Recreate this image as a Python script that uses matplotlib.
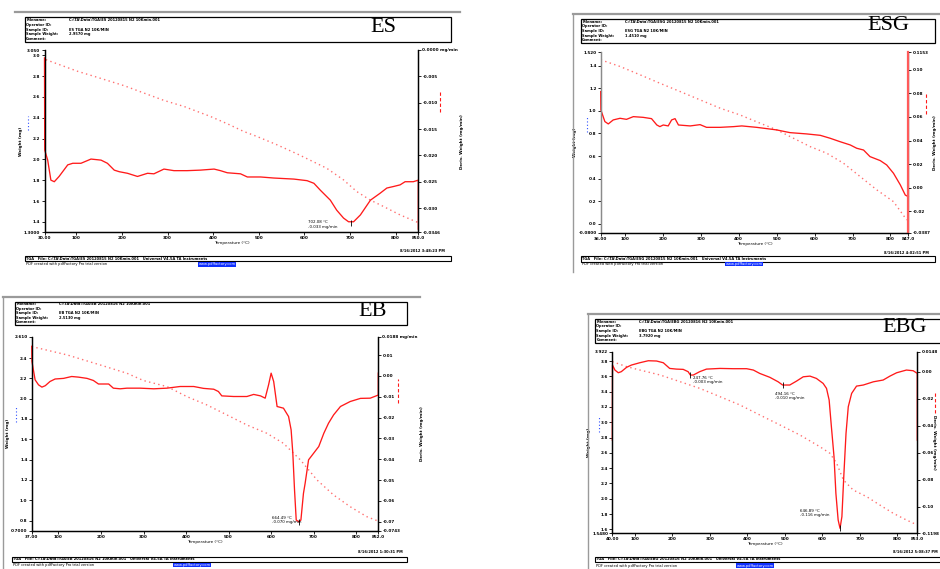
import matplotlib
matplotlib.use('Agg')
import matplotlib.pyplot as plt
from matplotlib.lines import Line2D
from matplotlib.patches import Rectangle

W, H = 940, 569

# ============================================================================
# data
# ============================================================================

# ES
ES_T_DTG = [30, 30.5, 37, 44, 51.5, 62, 81, 92, 110, 132, 154, 168, 183, 194, 212, 234, 256,
            270, 292, 314, 343, 372, 402, 416, 431, 460, 475, 504, 533, 577, 606, 621, 635,
            657, 671, 686, 697, 708, 723, 745, 766, 781, 796, 810, 821, 839, 850, 850]
ES_DTG = [-0.0015, -0.0190, -0.0209, -0.0247, -0.0250, -0.0240, -0.0218, -0.0215, -0.0215,
          -0.0207, -0.0209, -0.0215, -0.0228, -0.0231, -0.0234, -0.0240, -0.0234, -0.0235,
          -0.0226, -0.0229, -0.0229, -0.0228, -0.0226, -0.0229, -0.0233, -0.0235, -0.0241,
          -0.0241, -0.0243, -0.0245, -0.0248, -0.0253, -0.0266, -0.0285, -0.0304, -0.0319,
          -0.0326, -0.0326, -0.0313, -0.0285, -0.0272, -0.0262, -0.0259, -0.0256, -0.0250,
          -0.0250, -0.0247, -0.0340]
ES_T_W = [33, 103, 139, 205, 248, 292, 336, 394, 431, 467, 496, 540, 584, 649, 686, 715, 744,
          774, 810, 850]
ES_W = [2.957, 2.845, 2.797, 2.707, 2.637, 2.566, 2.508, 2.412, 2.342, 2.268, 2.220, 2.140,
        2.053, 1.915, 1.803, 1.691, 1.611, 1.547, 1.467, 1.393]
ES_PEAKS = [(702.08, -0.0328, 609, -0.0331)]

# ESG
ESG_T_DTG = [36, 36.5, 47, 56, 69, 87, 104, 122, 148, 170, 184, 192, 201, 214, 223, 232, 241,
             272, 298, 315, 351, 386, 408, 447, 474, 500, 535, 579, 615, 641, 667, 694, 711,
             729, 746, 773, 790, 808, 826, 839, 847]
ESG_DTG = [0.0816, 0.0660, 0.0561, 0.0541, 0.0575, 0.0589, 0.0580, 0.0603, 0.0597, 0.0586,
           0.0532, 0.0518, 0.0532, 0.0524, 0.0575, 0.0586, 0.0532, 0.0524, 0.0535, 0.0512,
           0.0512, 0.0518, 0.0524, 0.0512, 0.0501, 0.0490, 0.0467, 0.0456, 0.0444, 0.0419,
           0.0390, 0.0362, 0.0334, 0.0319, 0.0263, 0.0229, 0.0192, 0.0121, 0.0022, -0.0064,
           -0.0078]
ESG_T_W = [36, 87, 140, 192, 245, 298, 351, 403, 456, 500, 544, 588, 632, 676, 720, 764, 808, 843]
ESG_W = [1.451, 1.392, 1.318, 1.244, 1.171, 1.097, 1.023, 0.964, 0.891, 0.832, 0.758, 0.684,
         0.625, 0.537, 0.419, 0.301, 0.197, 0.035]
ESG_PEAKS = []

# EB
EB_T_DTG = [37, 37.5, 45, 53, 61, 69, 80, 92, 112, 131, 147, 167, 182, 194, 206, 218, 229, 245,
            261, 292, 324, 355, 386, 418, 441, 465, 476, 484, 512, 543, 559, 575, 586, 594, 600,
            606, 614, 629, 641, 647, 651, 655, 659, 665, 670, 676, 680, 688, 700, 712, 724, 735,
            747, 763, 786, 810, 833, 852, 852]
EB_DTG = [0.0142, 0.0070, -0.0019, -0.0043, -0.0054, -0.0047, -0.0027, -0.0015, -0.0012,
          -0.0003, -0.0006, -0.0012, -0.0022, -0.0039, -0.0039, -0.0039, -0.0059, -0.0062,
          -0.0059, -0.0059, -0.0062, -0.0059, -0.0051, -0.0051, -0.0060, -0.0064, -0.0075,
          -0.0096, -0.0099, -0.0099, -0.0089, -0.0096, -0.0107, -0.0043, 0.0013, -0.0027,
          -0.0147, -0.0155, -0.0195, -0.0259, -0.0371, -0.0547, -0.0692, -0.0700, -0.0692,
          -0.0564, -0.0515, -0.0403, -0.0371, -0.0339, -0.0275, -0.0227, -0.0187, -0.0147,
          -0.0123, -0.0108, -0.0107, -0.0092, 0.0013]
EB_T_W = [37, 120, 198, 261, 300, 355, 402, 449, 496, 543, 590, 629, 669, 708, 747, 786, 825, 849]
EB_W = [2.513, 2.431, 2.332, 2.250, 2.178, 2.119, 2.020, 1.938, 1.840, 1.741, 1.659, 1.560,
        1.396, 1.199, 1.051, 0.936, 0.838, 0.799]
EB_PEAKS = [(664.49, -0.0700, 602, -0.0692)]

# EBG
EBG_T_DTG = [40, 40.5, 47, 56, 64, 78, 91, 113, 136, 158, 176, 193, 211, 229, 242, 248, 256,
             273, 291, 327, 362, 398, 416, 433, 460, 482, 494, 513, 531, 549, 567, 584, 602,
             611, 618, 624, 631, 636, 642, 647, 652, 657, 663, 669, 678, 691, 709, 736, 762,
             780, 798, 824, 842, 853, 853]
EBG_DTG = [-0.0507, 0.0049, 0.0012, -0.0008, 0.0000, 0.0032, 0.0049, 0.0066, 0.0081, 0.0079,
           0.0066, 0.0024, 0.0019, 0.0017, 0.0000, -0.0025, -0.0025, 0.0000, 0.0019, 0.0024,
           0.0022, 0.0022, 0.0012, -0.0013, -0.0042, -0.0075, -0.0099, -0.0099, -0.0070,
           -0.0038, -0.0033, -0.0050, -0.0087, -0.0124, -0.0210, -0.0408, -0.0630, -0.0902,
           -0.1099, -0.1161, -0.1075, -0.0778, -0.0457, -0.0260, -0.0161, -0.0107, -0.0099,
           -0.0075, -0.0062, -0.0033, -0.0008, 0.0012, 0.0007, -0.0013, -0.0507]
EBG_T_W = [40, 78, 113, 167, 220, 273, 327, 380, 433, 487, 540, 593, 620, 638, 656, 682, 718,
           753, 789, 824, 847]
EBG_W = [3.792, 3.727, 3.683, 3.618, 3.531, 3.443, 3.334, 3.226, 3.095, 2.964, 2.833, 2.681,
         2.594, 2.463, 2.245, 2.114, 2.027, 1.918, 1.809, 1.722, 1.670]
EBG_PEAKS = [(247.76, -0.0025, 255, -0.0062), (494.16, -0.0099, 473, -0.0178),
             (646.89, -0.1161, 540, -0.1050)]

X_TICKS = [100, 200, 300, 400, 500, 600, 700, 800]

PANELS = [
    dict(name='ES', t_dtg=ES_T_DTG, dtg=ES_DTG, t_w=ES_T_W, w=ES_W, peaks=ES_PEAKS,
         xlim=(30, 850), wlim=(1.30, 3.05), dlim=(-0.0346, 0.0),
         wticks=[1.4, 1.6, 1.8, 2.0, 2.2, 2.4, 2.6, 2.8, 3.0],
         dticks=[-0.030, -0.025, -0.020, -0.015, -0.010, -0.005],
         file='C:\\TA\\Data\\TGA\\ES 20120815 N2 10Kmin.001', sample='ES TGA N2 10K/MIN',
         weight='2.9570 mg', date='8/16/2012 3:48:23 PM', unit=True, rlab=None,
         frame=(15, 12, 460, None), header=(24.7, 17.3, 450.7, 42.0), plot=(44.5, 50.0, 418.3, 232.3),
         label=(383, 27), footer=(24.7, 255.7, 450.7, 261.3), pdf_y=264.5, date_xy=(445, 250.5)),
    dict(name='ESG', t_dtg=ESG_T_DTG, dtg=ESG_DTG, t_w=ESG_T_W, w=ESG_W, peaks=ESG_PEAKS,
         xlim=(36, 847), wlim=(-0.08, 1.52), dlim=(-0.0387, 0.1153),
         wticks=[0.0, 0.2, 0.4, 0.6, 0.8, 1.0, 1.2, 1.4],
         dticks=[-0.02, 0.00, 0.02, 0.04, 0.06, 0.08, 0.10],
         file='C:\\TA\\Data\\TGA\\ESG 20120815 N2 10Kmin.001', sample='ESG TGA N2 10K/MIN',
         weight='1.4510 mg', date='8/16/2012 4:02:51 PM', unit=False, rlab=None,
         frame=(573, 13.5, 940, 272), header=(580.7, 19.0, 935.0, 43.3), plot=(600.7, 52.0, 908.3, 233.0),
         label=(888, 26), footer=(580.7, 256.0, 935.0, 261.7), pdf_y=264.0, date_xy=(929, 252.5)),
    dict(name='EB', t_dtg=EB_T_DTG, dtg=EB_DTG, t_w=EB_T_W, w=EB_W, peaks=EB_PEAKS,
         xlim=(37, 852), wlim=(0.70, 2.61), dlim=(-0.0743, 0.0188),
         wticks=[0.8, 1.0, 1.2, 1.4, 1.6, 1.8, 2.0, 2.2, 2.4],
         dticks=[-0.07, -0.06, -0.05, -0.04, -0.03, -0.02, -0.01, 0.00, 0.01],
         file='C:\\TA\\Data\\TGA\\EB 20120816 N2 10Kmin.001', sample='EB TGA N2 10K/MIN',
         weight='2.5130 mg', date='8/16/2012 1:30:31 PM', unit=True, rlab=None,
         frame=(3, 296.5, 420, 569), header=(14.7, 301.7, 407.3, 325.0), plot=(31.7, 336.7, 378.3, 530.7),
         label=(373, 312), footer=(11.7, 556.7, 407.3, 561.7), pdf_y=565.0, date_xy=(403, 552.0)),
    dict(name='EBG', t_dtg=EBG_T_DTG, dtg=EBG_DTG, t_w=EBG_T_W, w=EBG_W, peaks=EBG_PEAKS,
         xlim=(40, 853), wlim=(1.548, 3.922), dlim=(-0.1198, 0.0148),
         wticks=[1.6, 1.8, 2.0, 2.2, 2.4, 2.6, 2.8, 3.0, 3.2, 3.4, 3.6, 3.8],
         dticks=[-0.10, -0.08, -0.06, -0.04, -0.02, 0.00],
         file='C:\\TA\\Data\\TGA\\EBG 20120816 N2 10Kmin.001', sample='EBG TGA N2 10K/MIN',
         weight='3.7920 mg', date='8/16/2012 5:08:37 PM', unit=False, rlab=934,
         frame=(588.3, 313.5, 940, 569), header=(595.0, 319.0, 941.0, 343.3), plot=(612.3, 351.7, 917.3, 533.3),
         label=(905, 327), footer=(595.0, 556.7, 941.0, 562.3), pdf_y=565.7, date_xy=(938, 552.3)),
]

DTG_COLOR = '#ff1a1a'
W_COLOR = '#ff7070'
TICK_FS = 3.0
SMALL_FS = 2.6


def fx(x):
    return x / W


def fy(y):
    return 1 - y / H


def fig_line(fig, xs, ys, color='black', lw=0.8):
    fig.add_artist(Line2D([fx(x) for x in xs], [fy(y) for y in ys], color=color, lw=lw,
                          transform=fig.transFigure))


def fig_box(fig, box, lw=0.9):
    x0, y0, x1, y1 = box
    fig.add_artist(Rectangle((fx(x0), fy(y1)), fx(x1) - fx(x0), fy(y0) - fy(y1), fill=False,
                             ec='black', lw=lw, transform=fig.transFigure))


def fmt(v, nd):
    return f"{v:.{nd}f}"


def draw_panel(fig, p):
    # outer gray frame
    fx0, fy0, fx1, fy1 = p['frame']
    fig_line(fig, [fx0, fx1], [fy0, fy0], color='#9a9a9a', lw=1.6)
    if fy1 is not None:
        fig_line(fig, [fx0, fx0], [fy0, fy1], color='#9a9a9a', lw=1.0)

    # header box
    hx0, hy0, hx1, hy1 = p['header']
    fig_box(fig, p['header'])
    keys = ['Filename:', 'Operator ID:', 'Sample ID:', 'Sample Weight:', 'Comment:']
    vals = [p['file'], '', p['sample'], p['weight'], '']
    step = (hy1 - hy0) / 5.2
    for i, (k, v) in enumerate(zip(keys, vals)):
        yy = hy0 + step * (i + 0.6)
        fig.text(fx(hx0 + 1.5), fy(yy), k, fontsize=SMALL_FS, weight='bold', va='center')
        fig.text(fx(hx0 + 44), fy(yy), v, fontsize=SMALL_FS, weight='bold', va='center')
    fig.text(fx(p['label'][0]), fy(p['label'][1]), p['name'], fontsize=16,
             family='Liberation Serif', ha='center', va='center')

    # plot
    px0, py0, px1, py1 = p['plot']
    ax = fig.add_axes([fx(px0), fy(py1), fx(px1) - fx(px0), fy(py0) - fy(py1)])
    ax2 = ax.twinx()
    ax.plot(p['t_w'], p['w'], color=W_COLOR, lw=1.0, ls=(0, (1, 2.4)))
    ax2.plot(p['t_dtg'], p['dtg'], color=DTG_COLOR, lw=0.95, clip_on=False)

    for t, v, tx, ty in p['peaks']:
        ax2.plot([t], [v], marker='|', color='black', ms=5, mew=0.6)
        ax2.text(tx, ty, f"{t:.2f} °C\n{v:.3f} mg/min", fontsize=SMALL_FS + 0.3,
                 va='center', ha='left', linespacing=1.1)

    ax.set_xlim(*p['xlim'])
    ax.set_ylim(*p['wlim'])
    ax2.set_ylim(*p['dlim'])

    x0, x1 = p['xlim']
    ax.set_xticks([x0] + X_TICKS + [x1])
    ax.set_xticklabels([fmt(x0, 2)] + [str(t) for t in X_TICKS] + [fmt(x1, 1)])
    w0, w1 = p['wlim']
    ax.set_yticks([w0] + p['wticks'] + [w1])
    ax.set_yticklabels([fmt(w0, 4)] + [fmt(t, 1) for t in p['wticks']] + [fmt(w1, 3)])
    d0, d1 = p['dlim']
    ax2.set_yticks([d0] + p['dticks'] + [d1])
    nd = 3 if p['name'] == 'ES' else 2
    top = fmt(d1, 4) + (' mg/min' if p['unit'] else '')
    ax2.set_yticklabels([fmt(d0, 4)] + [fmt(t, nd) for t in p['dticks']] + [top])

    for a in (ax, ax2):
        a.spines['top'].set_visible(False)
        for s in ('left', 'right', 'bottom'):
            a.spines[s].set_linewidth(0.9)
        a.tick_params(length=2, width=0.6, pad=1, labelsize=TICK_FS)
        for lab in a.get_xticklabels() + a.get_yticklabels():
            lab.set_fontweight('bold')
    if p['name'] == 'ESG':
        ax.spines['left'].set_color('#8a8a8a')
        ax2.spines['left'].set_color('#8a8a8a')
        ax2.spines['right'].set_color('#ff5a5a')
        ax2.spines['right'].set_linewidth(1.6)

    ax.set_xlabel('Temperature (°C)', fontsize=TICK_FS, labelpad=0.5)
    ax.set_ylabel('Weight (mg)', fontsize=TICK_FS, weight='bold', labelpad=1)
    if p['rlab'] is None:
        ax2.set_ylabel('Deriv. Weight (mg/min)', fontsize=TICK_FS, weight='bold', labelpad=1.5)
    else:
        # panel touches the page edge: keep the title inside the picture
        fig.text(fx(p['rlab']), fy((py0 + py1) / 2), 'Deriv. Weight (mg/min)', fontsize=TICK_FS,
                 weight='bold', rotation=270, ha='center', va='center')

    # curve keys next to the axis titles
    ax.add_line(Line2D([-0.045, -0.045], [0.56, 0.64], transform=ax.transAxes, color='#3050ff',
                       lw=0.8, ls=(0, (1, 2)), clip_on=False))
    ax.add_line(Line2D([1.058, 1.058], [0.66, 0.78], transform=ax.transAxes, color=DTG_COLOR,
                       lw=0.8, ls=(0, (3, 2)), clip_on=False))

    # footer
    fig_box(fig, p['footer'], lw=0.8)
    bx0, by0, bx1, by1 = p['footer']
    fig.text(fx(bx0 + 1.5), fy((by0 + by1) / 2), 'TGA   File: ' + p['file'] + '   Universal V4.5A TA Instruments',
             fontsize=SMALL_FS, weight='bold', va='center')
    fig.text(fx(p['date_xy'][0]), fy(p['date_xy'][1]), p['date'], fontsize=SMALL_FS, weight='bold',
             ha='right', va='center')
    fig.text(fx(bx0 + 1.5), fy(p['pdf_y']), 'PDF created with pdfFactory Pro trial version ',
             fontsize=SMALL_FS, va='center')
    fig.text(fx(bx0 + 1.5 + 0.405 * (bx1 - bx0)), fy(p['pdf_y']), 'www.pdffactory.com',
             fontsize=SMALL_FS, va='center', color='white',
             bbox=dict(boxstyle='square,pad=0.1', fc='#1030ff', ec='none'))


fig = plt.figure(figsize=(W / 100, H / 100), dpi=100)
fig.patch.set_facecolor('white')
for p in PANELS:
    draw_panel(fig, p)

fig.savefig('out.png', dpi=100)
